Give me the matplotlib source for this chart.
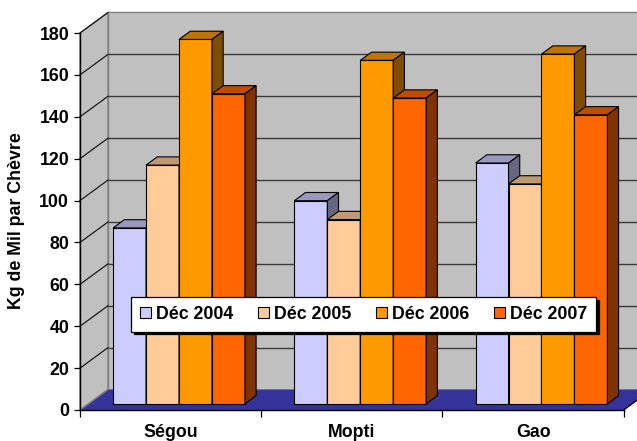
import matplotlib
matplotlib.use("Agg")
import matplotlib.pyplot as plt
from matplotlib.patches import Polygon, Patch
import numpy as np

# ---- data ----
categories = ["Ségou", "Mopti", "Gao"]
series_labels = ["Déc 2004", "Déc 2005", "Déc 2006", "Déc 2007"]
dec_2004 = [84, 97, 115]
dec_2005 = [114, 88, 105]
dec_2006 = [174, 164, 167]
dec_2007 = [148, 146, 138]
y_ticks = [0, 20, 40, 60, 80, 100, 120, 140, 160, 180]

series_values = [dec_2004, dec_2005, dec_2006, dec_2007]
series_colors = ["#CCCCFF", "#FFCC99", "#FF9900", "#FF6600"]

FONT = "Liberation Sans"
FS = 12.8

W, H = 637, 441
fig = plt.figure(figsize=(W / 100, H / 100), dpi=100)
fig.patch.set_facecolor("white")

# front plane of the 3-D box in figure pixels
x0_px, x1_px = 80, 623.7
y0_px, y1_px = 410, 33
ax = fig.add_axes([x0_px / W, (H - y0_px) / H,
                   (x1_px - x0_px) / W, (y0_px - y1_px) / H])
ncat = len(categories)
ymax = y_ticks[-1]
ax.set_xlim(0, ncat)
ax.set_ylim(0, ymax)
ax.patch.set_visible(False)

# oblique depth offsets (data units) for full depth
px_per_x = (x1_px - x0_px) / ncat
px_per_y = (y0_px - y1_px) / ymax
DX = 28 / px_per_x
DY = 20.5 / px_per_y


def P(x, v, d):
    return (x + d * DX, v + d * DY)


def shade(hexcol, f):
    c = np.array(matplotlib.colors.to_rgb(hexcol)) * f
    return tuple(c)


def poly(pts, fc, ec="none", lw=0.0, z=1):
    ax.add_patch(Polygon(pts, closed=True, facecolor=fc, edgecolor=ec,
                         linewidth=lw, zorder=z, clip_on=False))


wall = "#C0C0C0"
wall_edge = "#808080"
# back wall
poly([P(0, 0, 1), P(ncat, 0, 1), P(ncat, ymax, 1), P(0, ymax, 1)],
     wall, wall_edge, 1.0, z=0.5)
# side wall
poly([P(0, 0, 0), P(0, 0, 1), P(0, ymax, 1), P(0, ymax, 0)],
     wall, wall_edge, 1.0, z=0.6)
# gridlines on the walls
for v in y_ticks[1:-1]:
    xa, ya = P(0, v, 1)
    xb, yb = P(ncat, v, 1)
    ax.plot([xa, xb], [ya, yb], color="#3a3a3a", lw=1.0, zorder=0.8,
            clip_on=False, solid_capstyle="butt")
for v in y_ticks[1:]:
    xa, ya = P(0, v, 0)
    xb, yb = P(0, v, 1)
    ax.plot([xa, xb], [ya, yb], color="#1a1a1a", lw=0.9, zorder=0.8,
            clip_on=False)
# floor
poly([P(0, 0, 0), P(ncat, 0, 0), P(ncat, 0, 1), P(0, 0, 1)],
     "#333399", "none", 0, z=0.9)
xa, ya = P(ncat, 0, 0)
xb, yb = P(ncat, 0, 1)
ax.plot([xa, xb], [ya, yb], color="black", lw=0.9, zorder=0.95, clip_on=False)
xa, ya = P(0, 0, 0)
xb, yb = P(0, 0, 1)
ax.plot([xa, xb], [ya, yb], color=wall_edge, lw=1.0, zorder=0.95, clip_on=False)

# bars
gap = 1.5
nser = len(series_values)
bw = 1.0 / (nser + gap)
off = gap * bw / 2
d0, d1 = 0.3, 0.7
z = 2
for ci in range(ncat):
    for si in range(nser):
        v = series_values[si][ci]
        col = series_colors[si]
        xl = ci + off + si * bw
        xr = xl + bw
        poly([P(xl, 0, d0), P(xr, 0, d0), P(xr, v, d0), P(xl, v, d0)],
             col, "black", 0.8, z=z)
        poly([P(xl, v, d0), P(xr, v, d0), P(xr, v, d1), P(xl, v, d1)],
             shade(col, 0.75), "black", 0.8, z=z + 0.1)
        poly([P(xr, 0, d0), P(xr, v, d0), P(xr, v, d1), P(xr, 0, d1)],
             shade(col, 0.5), "black", 0.8, z=z + 0.2)
        z += 1

# axes
for s in ["top", "right"]:
    ax.spines[s].set_visible(False)
ax.spines["left"].set_zorder(1.0)
ax.spines["bottom"].set_zorder(1.0)
ax.spines["left"].set_linewidth(1.0)
ax.spines["bottom"].set_linewidth(1.0)
ax.set_yticks(y_ticks)
ax.set_yticklabels([str(t) for t in y_ticks])
ax.tick_params(axis="y", direction="out", length=4.3, width=0.9, pad=3.5)
ax.set_xticks(range(ncat + 1))
ax.set_xticklabels([])
ax.set_xticks([c + 0.5 for c in range(ncat)], minor=True)
ax.set_xticklabels(categories, minor=True)
ax.tick_params(axis="x", which="major", direction="out", length=5, width=0.9)
ax.tick_params(axis="x", which="minor", length=0, pad=10)
for lab in ax.get_yticklabels() + ax.get_xticklabels(minor=True):
    lab.set_fontfamily(FONT)
    lab.set_fontweight("bold")
    lab.set_fontsize(FS)

fig.text(17 / W, 1 - 221 / H, "Kg de Mil par Chèvre", rotation=90,
         ha="center", va="center", fontfamily=FONT, fontweight="bold",
         fontsize=FS)

# legend
handles = [Patch(facecolor=c, edgecolor="black", linewidth=0.8)
           for c in series_colors]
lx0, lx1 = 131, 596.3
ly0, ly1 = 297.7, 330.7
leg = fig.legend(handles, series_labels, ncol=4, mode="expand",
                 loc="center left",
                 bbox_to_anchor=(lx0 / W, 1 - ly1 / H, (lx1 - lx0) / W,
                                 (ly1 - ly0) / H),
                 bbox_transform=fig.transFigure, borderaxespad=0,
                 borderpad=0.5, handlelength=0.65, handleheight=0.65,
                 handletextpad=0.27, columnspacing=1.0,
                 fancybox=False, framealpha=1, edgecolor="black",
                 shadow={"color": "black", "alpha": 1},
                 prop={"family": FONT, "weight": "bold", "size": FS})
leg.get_frame().set_linewidth(0.9)
leg.set_zorder(50)

fig.savefig("out.png", dpi=100, facecolor="white")
